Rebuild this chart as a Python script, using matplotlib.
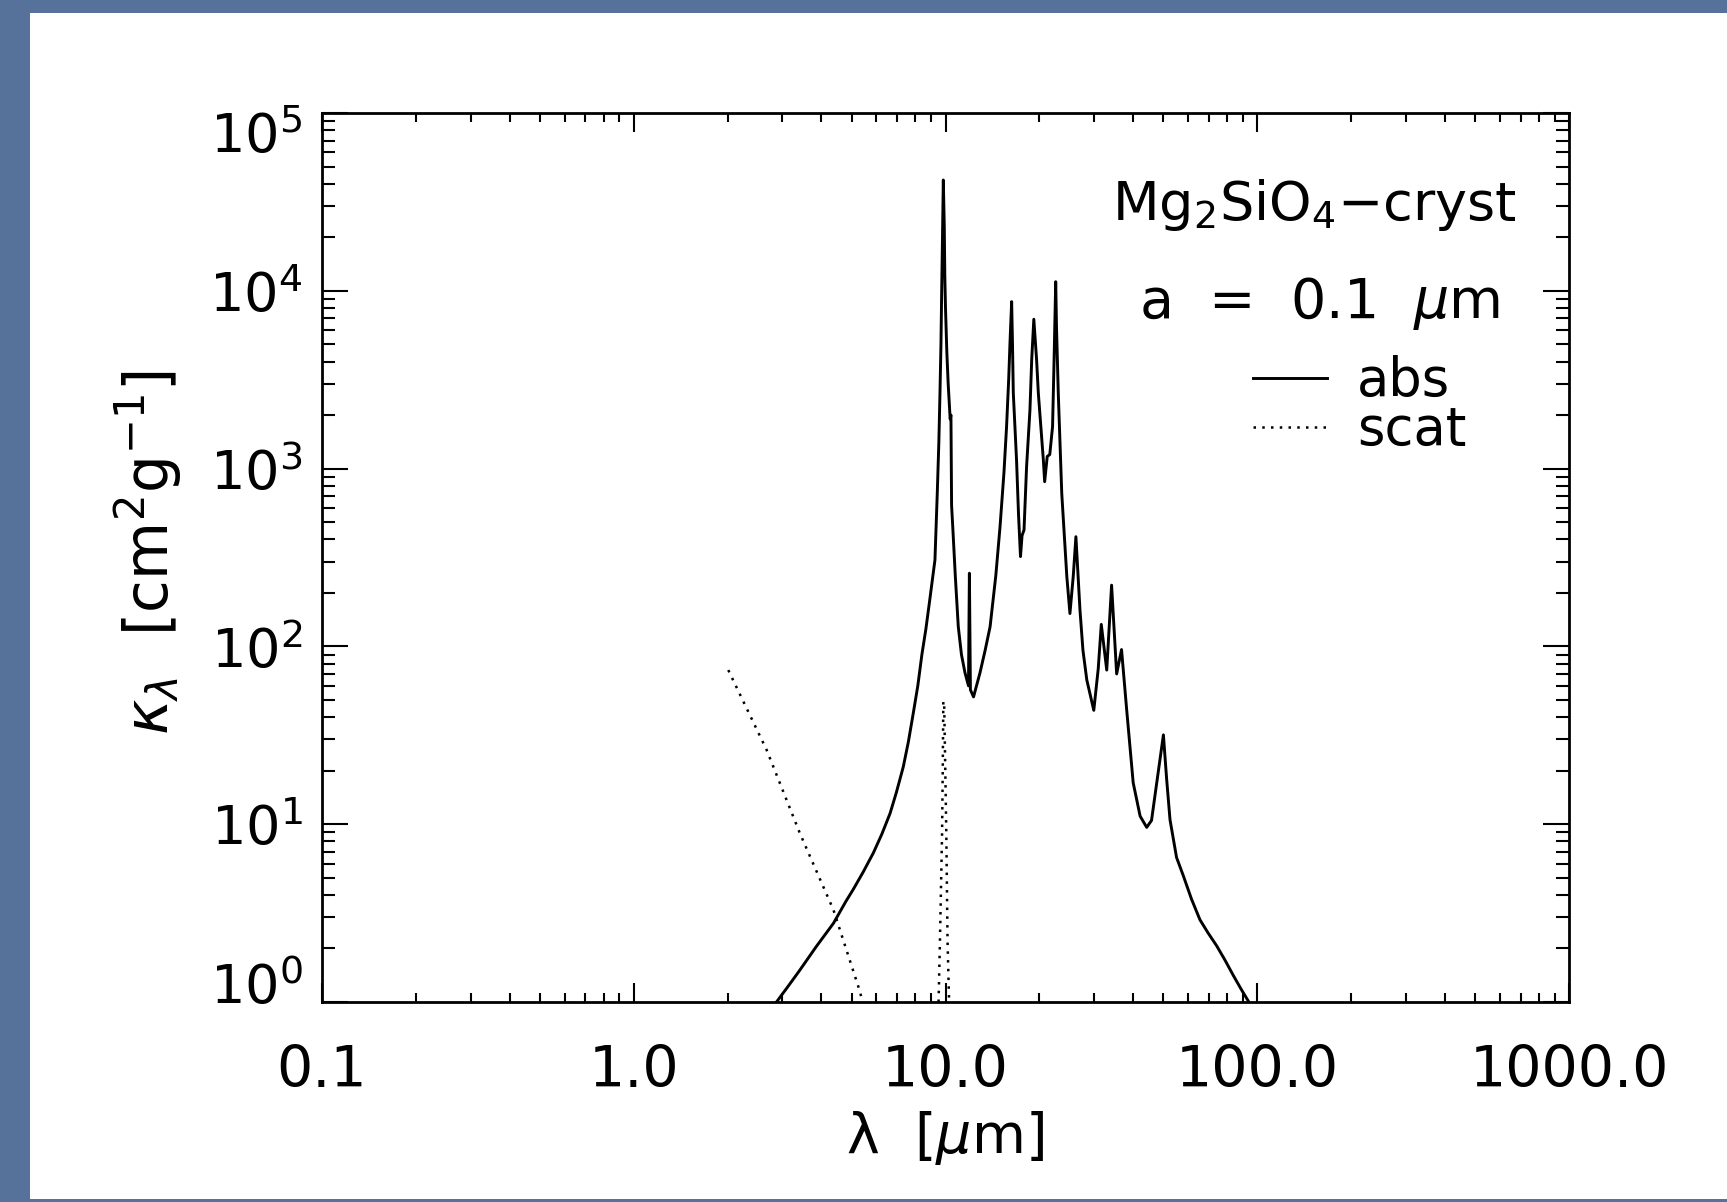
import numpy as np
import matplotlib
matplotlib.use("Agg")
import matplotlib.pyplot as plt
import matplotlib.transforms as mtransforms
from matplotlib.patches import Rectangle

# ---- data ----
abs_wl = [2.87, 3.1, 3.4, 3.85, 4.37, 4.8, 5.06, 5.45, 5.87, 6.25, 6.64, 6.95, 7.32, 7.6, 7.88,
          8.15, 8.4, 8.65, 8.9, 9.25, 9.41, 9.52,
          9.6, 9.67, 9.72, 9.78, 9.84, 9.91, 9.95, 10.0, 10.1, 10.2, 10.35, 10.41, 10.46, 10.55,
          10.75, 10.99, 11.25, 11.55, 11.85, 11.93, 12.02, 12.3, 12.9, 13.4, 13.9, 14.5, 14.96,
          15.4, 15.7, 15.95, 16.1, 16.3, 16.4, 16.5, 16.9, 17.15, 17.4, 17.6, 17.86, 18.2, 18.66,
          18.9, 19.2, 19.6, 19.85, 20.6, 20.8, 21.2, 21.6, 22.05, 22.3, 22.57, 22.7, 23.0, 23.6,
          24.5, 25.07, 25.7, 26.2, 27.0, 27.6, 28.4, 29.9, 30.9, 31.6, 32.9, 34.1, 35.4, 36.7,
          38.1, 40.0, 42.1, 44.2, 45.8, 47.6, 50.0, 51.2, 52.5, 55.1, 57.9, 61.5, 65.5, 69.5,
          74.1, 78.8, 83.8, 88.8, 94.0]
abs_kappa = [1.0, 1.2, 1.5, 2.05, 2.77, 3.7, 4.3, 5.4, 6.9, 8.8, 11.5, 15.0, 21.0, 29.0, 42.0,
             60.0, 90.0, 125.0, 182.0, 306.0, 726.0, 1400.0,
             2660.0, 5000.0, 9680.0, 20000.0, 42000.0, 23000.0, 12000.0, 8000.0, 4500.0, 3000.0, 1900.0, 2000.0, 620.0, 470.0,
             250.0, 129.0, 90.0, 71.0, 60.0, 258.0, 57.0, 52.0, 71.0, 95.0, 129.0, 250.0, 471.0,
             950.0, 1722.0, 3200.0, 5070.0, 8690.0, 5070.0, 2660.0, 1117.0, 550.0, 320.0, 420.0, 452.0, 1025.0, 2140.0,
             4080.0, 6920.0, 4080.0, 2660.0, 1117.0, 844.0, 1170.0, 1200.0, 1722.0, 4080.0, 11250.0, 6280.0, 2660.0, 726.0,
             247.0, 153.0, 250.0, 414.0, 160.0, 95.0, 64.7, 43.7, 75.0, 133.0, 73.6, 221.0, 70.0, 96.0,
             44.5, 17.1, 11.1, 9.6, 10.5, 17.1, 31.8, 18.0, 10.6, 6.5, 5.14, 3.8, 2.9, 2.45,
             2.07, 1.72, 1.41, 1.18, 1.0]

scat_wl = [2.01, 2.67, 3.41, 4.37, 5.32, 5.45, np.nan,
           9.5, 9.6, 9.75, 9.8, 9.84, 9.9, 9.98, 10.06, 10.15, 10.27]
scat_kappa = [73.6, 26.1, 8.9, 3.3, 1.14, 0.95, np.nan,
              1.0, 2.24, 8.9, 21.0, 49.0, 49.0, 21.0, 8.9, 2.24, 1.0]

xtick_vals = [0.1, 1.0, 10.0, 100.0, 1000.0]
xtick_labels = ["0.1", "1.0", "10.0", "100.0", "1000.0"]
ytick_vals = [1, 10, 100, 1000, 10000, 100000]
ytick_labels = [r"10$^{0}$", r"10$^{1}$", r"10$^{2}$", r"10$^{3}$", r"10$^{4}$", r"10$^{5}$"]

# ---- figure ----
W, H = 1727, 1202
fig = plt.figure(figsize=(W / 100, H / 100), dpi=100)
fig.patch.set_facecolor("#56729b")
fig.patches.append(Rectangle((30 / W, 3 / H), 1 - 30 / W, (H - 13 - 3) / H,
                             transform=fig.transFigure, facecolor="white",
                             edgecolor="none", zorder=-10))

plt.rcParams["mathtext.fontset"] = "dejavusans"
FS = 39

ax = fig.add_axes([322 / W, 1 - 1002 / H, (1569 - 322) / W, (1002 - 113) / H])
ax.set_zorder(5)
ax.set_facecolor("white")
ax.set_xscale("log")
ax.set_yscale("log")
ax.set_xlim(0.1, 1000)
ax.set_ylim(1, 1e5)

l1, = ax.plot(abs_wl, abs_kappa, color="black", lw=2.1)
l2, = ax.plot(scat_wl, scat_kappa, color="black", lw=1.8, linestyle=(0, (1, 2.5)))

for s in ax.spines.values():
    s.set_linewidth(2.0)

ax.set_xticks(xtick_vals)
ax.set_xticklabels(xtick_labels)
ax.set_yticks(ytick_vals)
ax.set_yticklabels(ytick_labels)

ax.tick_params(axis="both", which="both", direction="in", top=True, right=True, width=1.5)
ax.tick_params(axis="x", which="major", length=13.5, pad=30, labelsize=41)
ax.tick_params(axis="x", which="minor", length=6.5)
ax.tick_params(axis="y", which="major", length=19, pad=14, labelsize=39)
ax.tick_params(axis="y", which="minor", length=9.5)
ax.yaxis.set_minor_locator(matplotlib.ticker.LogLocator(base=10, subs=np.arange(2, 10), numticks=20))
ax.xaxis.set_minor_locator(matplotlib.ticker.LogLocator(base=10, subs=np.arange(2, 10), numticks=20))
ax.yaxis.set_minor_formatter(matplotlib.ticker.NullFormatter())
ax.xaxis.set_minor_formatter(matplotlib.ticker.NullFormatter())

# shift extreme y tick labels inward like the reference
ylabs = ax.get_yticklabels()
ylabs[0].set_transform(ylabs[0].get_transform() + mtransforms.ScaledTranslation(0, 19 / 100, fig.dpi_scale_trans))
ylabs[-1].set_transform(ylabs[-1].get_transform() + mtransforms.ScaledTranslation(0, -19 / 100, fig.dpi_scale_trans))

ax.set_xlabel("λ  [$\\mu$m]", fontsize=40, va="center")
ax.xaxis.set_label_coords(0.5, -(1138 - 1002) / 889)
ax.set_ylabel(r"$\kappa_\lambda$  [cm$^2$g$^{-1}$]", fontsize=43, va="center")
ax.yaxis.set_label_coords((148 - 322) / 1247, 0.505)

ax.text((1517 - 322) / 1247, 1 - (220 - 113) / 889, r"Mg$_2$SiO$_4$$-$cryst", transform=ax.transAxes,
        ha="right", va="baseline", fontsize=FS)
ax.text((1500 - 322) / 1247, 1 - (318 - 113) / 889, r"a  =  0.1  $\mu$m", transform=ax.transAxes,
        ha="right", va="baseline", fontsize=FS + 1)

LFS = 38
em = LFS * 100 / 72
leg = ax.legend([l1, l2], ["abs", "scat"], loc="upper left",
                bbox_to_anchor=((1253 - 322) / 1247, 1 - (355 - 113) / 889),
                frameon=False, fontsize=LFS, handlelength=74 / em,
                handletextpad=30 / em, labelspacing=-0.04, borderpad=0, borderaxespad=0)

fig.savefig("out.png", dpi=100, facecolor=fig.get_facecolor())
